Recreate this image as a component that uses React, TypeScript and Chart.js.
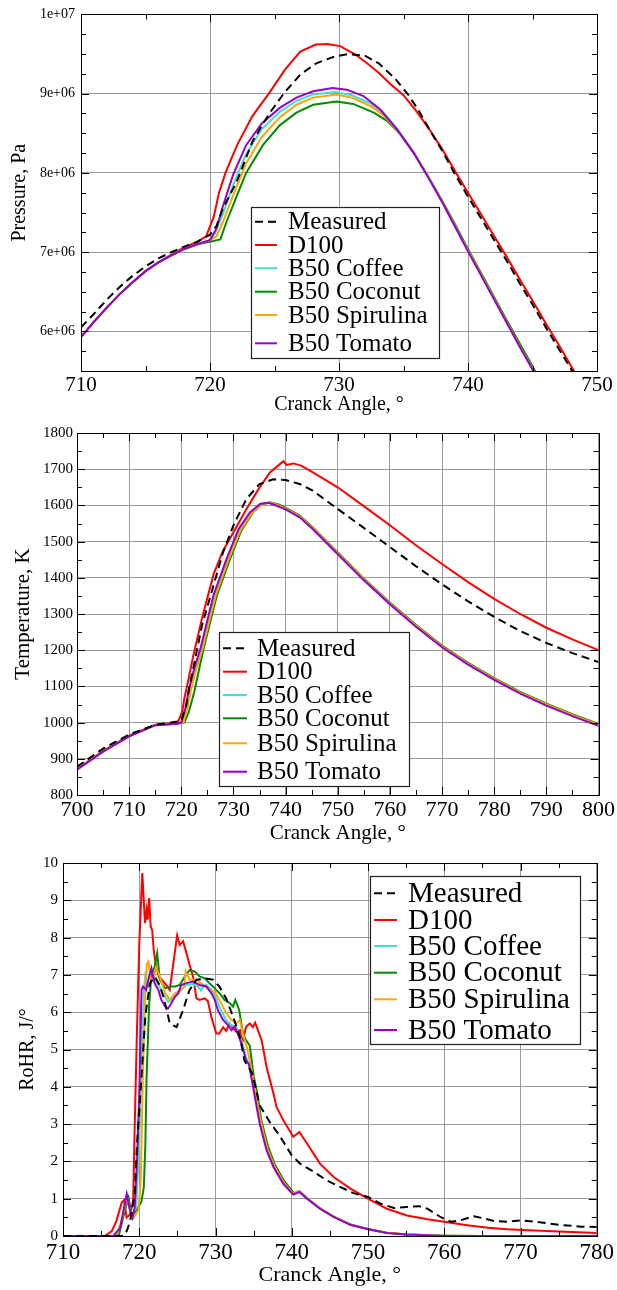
import { useEffect, useRef } from 'react';
import { Chart, registerables } from 'chart.js';

Chart.register(...registerables);

type Pt = [number, number];

const FONT = '"Liberation Serif", "Times New Roman", serif';

const SERIES_NAMES = ['Measured', 'D100', 'B50 Coffee', 'B50 Coconut', 'B50 Spirulina', 'B50 Tomato'];
const SERIES_COLORS = ['#000000', '#ff0000', '#40e0d0', '#008b00', '#ffa500', '#9400d3'];
const SERIES_ORDER = [0, 5, 4, 3, 2, 1];

// ---------- Pressure ----------
const pressureAngleTicks = [710, 720, 730, 740, 750];
const pressureTicks = [6e6, 7e6, 8e6, 9e6, 1e7];

const pressureMeasured: Pt[] = [
  [710, 6.05e6], [711, 6.22e6], [712, 6.4e6], [713, 6.56e6], [714, 6.7e6], [715, 6.82e6], [716, 6.92e6],
  [717, 7.0e6], [718, 7.07e6], [719, 7.13e6], [720, 7.22e6], [720.5, 7.33e6], [721, 7.55e6], [722.1, 7.9e6],
  [723.3, 8.4e6], [724.6, 8.75e6], [725.8, 9.02e6], [727, 9.24e6], [728.2, 9.38e6], [729.5, 9.46e6],
  [730.7, 9.5e6], [732, 9.48e6], [733.1, 9.38e6], [734.4, 9.18e6], [735.4, 8.98e6], [736.2, 8.78e6],
  [737, 8.55e6], [738, 8.28e6], [739, 7.98e6], [740, 7.7e6], [741, 7.43e6], [742, 7.16e6], [743, 6.89e6],
  [744, 6.61e6], [745, 6.34e6], [746, 6.06e6], [747, 5.79e6], [748, 5.52e6], [748.5, 5.39e6],
];
const pressureD100: Pt[] = [
  [710, 5.93e6], [711, 6.12e6], [712, 6.3e6], [713, 6.47e6], [714, 6.62e6], [715, 6.76e6], [716, 6.87e6],
  [717, 6.97e6], [718, 7.06e6], [719, 7.13e6], [719.7, 7.2e6], [720.3, 7.45e6], [720.7, 7.75e6],
  [721.2, 8.0e6], [722.1, 8.35e6], [723.3, 8.72e6], [724.6, 9.01e6], [725.8, 9.3e6], [727, 9.53e6],
  [728.2, 9.62e6], [729.1, 9.625e6], [730.1, 9.6e6], [731.3, 9.49e6], [732.2, 9.38e6], [733.1, 9.26e6],
  [734, 9.12e6], [735, 8.98e6], [736, 8.78e6], [737, 8.55e6], [738, 8.3e6], [739, 8.02e6], [740, 7.75e6],
  [741, 7.48e6], [742, 7.21e6], [743, 6.94e6], [744, 6.66e6], [745, 6.39e6], [746, 6.11e6], [747, 5.84e6],
  [748, 5.56e6], [748.6, 5.4e6],
];
const pressureCoffee: Pt[] = [
  [710, 5.93e6], [711, 6.12e6], [712, 6.3e6], [713, 6.47e6], [714, 6.62e6], [715, 6.76e6], [716, 6.87e6],
  [717, 6.96e6], [718, 7.04e6], [719, 7.1e6], [720, 7.15e6], [720.4, 7.24e6], [721, 7.48e6], [721.8, 7.85e6],
  [722.8, 8.24e6], [724, 8.55e6], [725.4, 8.77e6], [726.7, 8.91e6], [728, 8.99e6], [729.7, 9.02e6],
  [731, 8.98e6], [732.5, 8.87e6], [733.5, 8.75e6], [734.5, 8.56e6], [735.8, 8.26e6], [737, 7.93e6],
  [738, 7.64e6], [739, 7.33e6], [740, 7.02e6], [741, 6.72e6], [742, 6.42e6], [743, 6.12e6], [744, 5.82e6],
  [745, 5.53e6], [745.5, 5.38e6],
];
const pressureCoconut: Pt[] = [
  [710, 5.93e6], [711, 6.12e6], [712, 6.3e6], [713, 6.47e6], [714, 6.62e6], [715, 6.76e6], [716, 6.87e6],
  [717, 6.96e6], [718, 7.04e6], [719, 7.1e6], [720, 7.13e6], [720.8, 7.16e6], [721.3, 7.39e6],
  [722.1, 7.72e6], [722.8, 8.0e6], [724.1, 8.35e6], [725.4, 8.6e6], [726.7, 8.76e6], [728, 8.86e6],
  [729.8, 8.9e6], [731.1, 8.87e6], [732.7, 8.76e6], [733.7, 8.66e6], [734.7, 8.5e6], [735.8, 8.25e6],
  [737, 7.93e6], [738, 7.65e6], [739, 7.35e6], [740, 7.04e6], [741, 6.74e6], [742, 6.44e6], [743, 6.14e6],
  [744, 5.85e6], [745, 5.56e6], [745.6, 5.38e6],
];
const pressureSpirulina: Pt[] = [
  [710, 5.93e6], [711, 6.12e6], [712, 6.3e6], [713, 6.47e6], [714, 6.62e6], [715, 6.76e6], [716, 6.87e6],
  [717, 6.96e6], [718, 7.04e6], [719, 7.1e6], [720, 7.15e6], [720.5, 7.2e6], [721, 7.38e6], [721.8, 7.72e6],
  [722.8, 8.12e6], [724, 8.45e6], [725.4, 8.7e6], [726.7, 8.86e6], [728, 8.95e6], [729.8, 8.99e6],
  [731, 8.95e6], [732.5, 8.84e6], [733.5, 8.72e6], [734.5, 8.54e6], [735.8, 8.25e6], [737, 7.93e6],
  [738, 7.64e6], [739, 7.33e6], [740, 7.02e6], [741, 6.72e6], [742, 6.42e6], [743, 6.12e6], [744, 5.82e6],
  [745, 5.53e6], [745.5, 5.38e6],
];
const pressureTomato: Pt[] = [
  [710, 5.93e6], [711, 6.12e6], [712, 6.3e6], [713, 6.47e6], [714, 6.62e6], [715, 6.76e6], [716, 6.87e6],
  [717, 6.96e6], [718, 7.04e6], [719, 7.1e6], [720, 7.15e6], [720.5, 7.3e6], [721, 7.58e6], [721.8, 7.98e6],
  [722.8, 8.35e6], [724, 8.62e6], [725.4, 8.82e6], [726.7, 8.95e6], [728, 9.03e6], [729.5, 9.07e6],
  [730.6, 9.05e6], [731.9, 8.97e6], [733.2, 8.8e6], [734.5, 8.55e6], [735.8, 8.25e6], [737, 7.92e6],
  [738, 7.63e6], [739, 7.32e6], [740, 7.01e6], [741, 6.71e6], [742, 6.41e6], [743, 6.11e6], [744, 5.81e6],
  [745, 5.52e6], [745.5, 5.37e6],
];

// ---------- Temperature ----------
const tempAngleTicks = [700, 710, 720, 730, 740, 750, 760, 770, 780, 790, 800];
const tempTicks = [800, 900, 1000, 1100, 1200, 1300, 1400, 1500, 1600, 1700, 1800];

const tempMeasured: Pt[] = [
  [700, 878], [705, 928], [710, 967], [715, 994], [718, 1000], [720, 1005], [721, 1050], [721.5, 1096],
  [722, 1130], [724, 1270], [726, 1370], [728, 1470], [730, 1545], [732.5, 1618], [735, 1659],
  [737.6, 1672], [740, 1670], [742.7, 1659], [745.2, 1641], [750, 1590], [755, 1538], [760, 1485],
  [765, 1432], [770, 1382], [775, 1335], [780, 1292], [785, 1253], [790, 1220], [795, 1192], [800, 1167],
];
const tempD100: Pt[] = [
  [700, 872], [705, 922], [710, 964], [715, 994], [718, 998], [719.4, 1002], [720.2, 1032], [720.6, 1068],
  [721.3, 1114], [722.3, 1185], [724, 1290], [726.2, 1410], [728, 1475], [730, 1526], [732.5, 1590],
  [734.8, 1645], [737, 1691], [738.9, 1714], [739.6, 1722], [740.2, 1712], [741.5, 1716], [743, 1710],
  [745, 1693], [750, 1650], [755, 1598], [760, 1545], [765, 1490], [770, 1438], [775, 1388], [780, 1342],
  [785, 1300], [790, 1262], [795, 1230], [800, 1200],
];
const tempCoffee: Pt[] = [
  [700, 871], [705, 921], [710, 962], [715, 993], [719, 997], [720.2, 1000], [721, 1041], [721.7, 1095],
  [722.7, 1150], [723.9, 1206], [726.4, 1353], [728.9, 1453], [731.2, 1535], [733.4, 1581], [735.3, 1605],
  [736.9, 1608], [738.5, 1601], [740, 1591], [742.7, 1569], [745.2, 1537], [750, 1467], [755, 1395],
  [760, 1329], [765, 1267], [770, 1210], [775, 1162], [780, 1120], [785, 1082], [790, 1049], [795, 1020],
  [800, 993],
];
const tempCoconut: Pt[] = [
  [700, 871], [705, 921], [710, 963], [715, 993], [719, 997], [720.6, 1000], [721.5, 1032], [722.5, 1086],
  [724.3, 1206], [726.8, 1350], [729.3, 1450], [731.5, 1530], [733.7, 1580], [735.5, 1604], [737.2, 1608],
  [738.8, 1602], [740, 1594], [742.7, 1572], [745.2, 1540], [750, 1470], [755, 1398], [760, 1332],
  [765, 1270], [770, 1213], [775, 1165], [780, 1123], [785, 1085], [790, 1052], [795, 1023], [800, 996],
];
const tempSpirulina: Pt[] = [
  [700, 871], [705, 921], [710, 962], [715, 993], [719, 997], [720.4, 1000], [721.2, 1041], [721.9, 1093],
  [722.9, 1148], [724.1, 1206], [726.6, 1352], [729.1, 1452], [731.4, 1533], [733.6, 1580], [735.5, 1603],
  [737.1, 1607], [738.7, 1600], [740, 1592], [742.7, 1570], [745.2, 1538], [750, 1468], [755, 1396],
  [760, 1330], [765, 1268], [770, 1211], [775, 1163], [780, 1121], [785, 1083], [790, 1050], [795, 1021],
  [800, 994],
];
const tempTomato: Pt[] = [
  [700, 870], [705, 920], [710, 962], [715, 993], [719, 997], [720, 1000], [720.8, 1041], [721.5, 1095],
  [722.5, 1150], [723.7, 1206], [726.2, 1353], [728.7, 1453], [731, 1535], [733.2, 1581], [735.1, 1604],
  [736.7, 1607], [738.3, 1599], [740, 1589], [742.7, 1567], [745.2, 1535], [750, 1465], [755, 1393],
  [760, 1327], [765, 1265], [770, 1208], [775, 1160], [780, 1118], [785, 1080], [790, 1047], [795, 1018],
  [800, 991],
];

// ---------- RoHR ----------
const rohrAngleTicks = [710, 720, 730, 740, 750, 760, 770, 780];
const rohrTicks = [0, 1, 2, 3, 4, 5, 6, 7, 8, 9, 10];

const rohrMeasured: Pt[] = [
  [710, 0], [717.9, 0], [718.4, 0.15], [718.8, 0.4], [719.4, 1.12], [719.7, 2.46], [720, 3.35], [720.4, 4.6],
  [720.8, 5.9], [721.4, 6.78], [722.05, 6.95], [722.6, 6.75], [723.2, 6.4], [723.6, 6.06], [724, 5.7],
  [724.9, 5.6], [725.75, 6.06], [726.6, 6.6], [727.5, 6.87], [728.8, 6.9], [729.7, 6.87], [730.5, 6.69],
  [731.4, 6.37], [732.3, 5.88], [733.2, 5.35], [733.8, 4.7], [734.8, 4.37], [735.8, 3.5], [737.1, 3.06],
  [738.5, 2.66], [740, 2.16], [741.1, 1.94], [742.9, 1.72], [744.6, 1.49], [746.4, 1.31], [748.1, 1.15],
  [750, 1.05], [751.6, 0.87], [753.4, 0.75], [755.1, 0.78], [756.7, 0.8], [757.8, 0.73], [759.5, 0.51],
  [760.9, 0.38], [762.1, 0.42], [763.9, 0.53], [765.2, 0.47], [766.5, 0.4], [768.3, 0.38], [770, 0.42],
  [772, 0.38], [775, 0.3], [778, 0.25], [780, 0.24],
];
const rohrD100: Pt[] = [
  [710, 0], [715.5, 0], [716.4, 0.13], [717, 0.4], [717.7, 0.9], [718, 0.96], [718.35, 0.49], [718.8, 0.58],
  [719.2, 0.94], [719.4, 2.9], [719.7, 5.5], [720, 7.8], [720.4, 9.73], [720.75, 8.39], [720.96, 8.75],
  [721.1, 8.48], [721.3, 9.06], [721.5, 8.3], [721.7, 8.2], [721.9, 7.67], [722.2, 7.22], [722.6, 6.95],
  [723.35, 6.78], [724, 6.6], [724.65, 7.58], [724.97, 8.06], [725.3, 7.8], [725.75, 7.9], [726.2, 7.58],
  [726.6, 7.27], [727.06, 6.95], [727.5, 6.37], [727.9, 6.33], [728.6, 6.37], [729, 6.3], [729.45, 5.88],
  [730.1, 5.43], [730.5, 5.43], [731, 5.6], [731.4, 5.5], [731.85, 5.7], [732.3, 5.57], [732.7, 5.48],
  [733.2, 5.52], [733.5, 5.17], [734, 5.6], [734.5, 5.7], [734.9, 5.6], [735.2, 5.72], [735.6, 5.5],
  [736.05, 5.25], [736.7, 4.53], [737.6, 3.82], [738, 3.46], [738.9, 3.1], [740.2, 2.66], [741, 2.79],
  [742, 2.48], [743.7, 1.94], [745.5, 1.58], [747.7, 1.27], [750, 1.0], [752.5, 0.73], [755.1, 0.55],
  [757.8, 0.45], [760, 0.38], [763, 0.29], [765.7, 0.22], [768.3, 0.18], [770.4, 0.16], [775, 0.12],
  [780, 0.08],
];
const rohrCoffee: Pt[] = [
  [710, 0], [716.8, 0], [717.6, 0.3], [718.4, 1.1], [718.85, 0.65], [719.2, 0.5], [719.6, 0.8], [719.9, 2.0],
  [720.3, 4.5], [720.6, 6.6], [720.8, 7.0], [721.2, 6.7], [721.8, 6.96], [722.3, 6.8], [722.9, 6.6],
  [723.4, 6.4], [723.8, 6.28], [724.3, 6.35], [724.9, 6.46], [725.5, 6.6], [726.2, 6.73], [727, 6.75],
  [727.7, 6.69], [728.1, 6.58], [728.4, 6.7], [728.8, 6.73], [729.7, 6.55], [730.5, 6.15], [731.4, 5.79],
  [732, 5.66], [732.7, 5.61], [733.4, 5.25], [734, 4.8], [734.5, 4.5], [735.1, 3.95], [735.9, 3.02],
  [736.8, 2.32], [737.7, 1.86], [739, 1.41], [740.2, 1.12], [741, 1.19], [742, 1.0], [743.7, 0.73],
  [745.5, 0.51], [747.7, 0.3], [750, 0.18], [752.5, 0.08], [755.1, 0.04], [760, 0.01], [765, 0], [780, 0],
];
const rohrCoconut: Pt[] = [
  [710, 0], [717.3, 0], [718.1, 0.67], [718.6, 1.03], [719, 0.58], [719.65, 0.67], [720.3, 0.94], [720.6, 1.3],
  [720.8, 2.45], [720.96, 4.25], [721.3, 6.2], [721.6, 7.0], [722, 7.2], [722.35, 7.58], [722.7, 6.87],
  [723.4, 6.64], [724, 6.69], [724.7, 6.69], [725.3, 6.73], [726, 6.96], [726.6, 7.13], [727.3, 7.09],
  [727.9, 6.96], [728.6, 6.91], [729.2, 6.78], [729.9, 6.64], [730.5, 6.51], [731.2, 6.33], [731.9, 6.24],
  [732.3, 6.15], [732.6, 6.33], [733.1, 6.06], [733.6, 5.43], [734, 5.25], [734.5, 5.1], [735, 4.3],
  [735.5, 3.8], [736, 3.1], [736.9, 2.4], [737.8, 1.9], [739.1, 1.45], [740.3, 1.15], [741, 1.2],
  [742, 1.02], [743.7, 0.75], [745.5, 0.52], [747.7, 0.31], [750, 0.19], [752.5, 0.09], [755.1, 0.04],
  [760, 0.01], [765, 0], [780, 0],
];
const rohrSpirulina: Pt[] = [
  [710, 0], [717, 0], [717.8, 0.5], [718.4, 1.05], [718.9, 0.6], [719.3, 0.5], [719.9, 0.7], [720.2, 1.5],
  [720.5, 4.5], [720.8, 6.5], [721, 7.3], [721.2, 7.36], [721.5, 6.9], [721.8, 6.87], [722.2, 7.2],
  [722.7, 6.96], [723.4, 6.51], [724, 6.33], [724.7, 6.51], [725.5, 6.6], [725.9, 6.7], [726.1, 7.09],
  [726.6, 6.87], [727.5, 6.87], [728.4, 6.73], [729.2, 6.6], [729.9, 6.55], [730.5, 6.33], [731.4, 5.97],
  [732.1, 5.79], [732.7, 5.7], [733.2, 5.79], [733.6, 5.43], [734.2, 4.99], [734.7, 4.5], [735.2, 3.9],
  [736, 3.0], [736.8, 2.35], [737.7, 1.88], [739, 1.42], [740.2, 1.13], [741, 1.2], [742, 1.01],
  [743.7, 0.74], [745.5, 0.52], [747.7, 0.31], [750, 0.19], [752.5, 0.09], [755.1, 0.04], [760, 0.01],
  [765, 0], [780, 0],
];
const rohrTomato: Pt[] = [
  [710, 0], [716.6, 0], [717.5, 0.22], [718.35, 1.12], [718.8, 0.67], [719.1, 0.49], [719.4, 0.76],
  [719.7, 2.0], [720, 3.8], [720.3, 6.6], [720.5, 6.69], [720.9, 6.6], [721.2, 6.87], [721.6, 7.18],
  [722, 6.78], [722.5, 6.6], [722.9, 6.33], [723.4, 6.15], [723.8, 6.1], [724.2, 6.24], [724.7, 6.42],
  [725.1, 6.5], [725.5, 6.73], [726.2, 6.78], [727.06, 6.82], [727.9, 6.73], [728.8, 6.69], [729.5, 6.5],
  [729.9, 6.33], [730.3, 6.06], [731, 5.79], [731.6, 5.66], [732.1, 5.52], [732.5, 5.61], [732.9, 5.43],
  [733.4, 5.16], [734, 4.72], [734.4, 4.6], [735, 3.91], [735.8, 3.01], [736.7, 2.3], [737.6, 1.85],
  [738.9, 1.4], [740.2, 1.11], [741, 1.18], [742, 1.0], [743.7, 0.73], [745.5, 0.51], [747.7, 0.3],
  [750, 0.18], [752.5, 0.08], [755.1, 0.04], [759.5, 0.01], [765, 0], [780, 0],
];

// ---------- helpers ----------
const sciLabel = (v: number) => {
  const e = Math.floor(Math.log10(Math.abs(v)) + 1e-9);
  const m = Math.round(v / Math.pow(10, e));
  return `${m}e+${String(e).padStart(2, '0')}`;
};

interface LegendCfg {
  box: [number, number, number, number];
  rows: number[];
  sample: [number, number];
  textX: number;
  fontSize: number;
}

const makeLegendPlugin = (cfg: LegendCfg) => ({
  id: 'boxLegend',
  afterDraw(chart: any) {
    const ctx: CanvasRenderingContext2D = chart.ctx;
    const [l, t, r, b] = cfg.box;
    ctx.save();
    ctx.fillStyle = '#ffffff';
    ctx.fillRect(l, t, r - l, b - t);
    ctx.strokeStyle = '#222';
    ctx.lineWidth = 1.2;
    ctx.strokeRect(l + 0.5, t + 0.5, r - l, b - t);
    ctx.font = `${cfg.fontSize}px ${FONT}`;
    ctx.textBaseline = 'middle';
    ctx.textAlign = 'left';
    chart.data.datasets.forEach((ds: any, i: number) => {
      const y = cfg.rows[i];
      ctx.strokeStyle = ds.borderColor;
      ctx.lineWidth = 2;
      ctx.setLineDash(ds.borderDash || []);
      ctx.beginPath();
      ctx.moveTo(cfg.sample[0], y);
      ctx.lineTo(cfg.sample[1], y);
      ctx.stroke();
      ctx.setLineDash([]);
      ctx.fillStyle = '#000';
      ctx.fillText(ds.label, cfg.textX, y + 1);
    });
    ctx.restore();
  },
});

const makeFramePlugin = (xStep: number, yStep: number, xMajor: number[], yMajor: number[]) => ({
  id: 'frameTicks',
  afterDatasetsDraw(chart: any) {
    const ctx: CanvasRenderingContext2D = chart.ctx;
    const { left, right, top, bottom } = chart.chartArea;
    const xs = chart.scales.x;
    const ys = chart.scales.y;
    ctx.save();
    ctx.strokeStyle = '#000';
    ctx.lineWidth = 1;
    ctx.beginPath();
    const nx = Math.round((xs.max - xs.min) / xStep);
    for (let i = 0; i <= nx; i++) {
      const v = xs.min + i * xStep;
      const major = xMajor.some((m) => Math.abs(m - v) < 1e-6);
      const len = major ? 8 : 5;
      const px = Math.round(xs.getPixelForValue(v)) + 0.5;
      ctx.moveTo(px, bottom);
      ctx.lineTo(px, bottom - len);
      ctx.moveTo(px, top);
      ctx.lineTo(px, top + len);
    }
    const ny = Math.round((ys.max - ys.min) / yStep);
    for (let i = 0; i <= ny; i++) {
      const v = ys.min + i * yStep;
      const major = yMajor.some((m) => Math.abs(m - v) < yStep * 1e-3);
      const len = major ? 8 : 5;
      const py = Math.round(ys.getPixelForValue(v)) + 0.5;
      ctx.moveTo(left, py);
      ctx.lineTo(left + len, py);
      ctx.moveTo(right, py);
      ctx.lineTo(right - len, py);
    }
    ctx.stroke();
    ctx.strokeRect(Math.round(left) + 0.5, Math.round(top) + 0.5, Math.round(right - left), Math.round(bottom - top));
    ctx.restore();
  },
});

interface ChartSpec {
  height: number;
  series: Pt[][];
  xMin: number; xMax: number; xTicks: number[]; xMinorStep: number;
  yMin: number; yMax: number; yTicks: number[]; yMinorStep: number;
  yLabel: (v: number) => string;
  yTitle: string;
  padTop: number; padRight: number;
  yAxisWidth: number; xAxisHeight: number;
  xTickSize: number; xTickPad: number;
  yTickSize: number; yTickPad: number;
  xTitleSize: number; xTitlePad: number;
  yTitleSize: number; yTitlePad: number;
  legend: LegendCfg;
}

const buildConfig = (s: ChartSpec): any => ({
  type: 'line',
  data: {
    datasets: s.series.map((pts, i) => ({
      label: SERIES_NAMES[i],
      data: pts.map(([x, y]) => ({ x, y })),
      borderColor: SERIES_COLORS[i],
      backgroundColor: SERIES_COLORS[i],
      borderWidth: 2,
      borderDash: i === 0 ? [8, 5] : [],
      pointRadius: 0,
      tension: 0,
      fill: false,
      order: SERIES_ORDER[i],
    })),
  },
  options: {
    responsive: false,
    animation: false,
    devicePixelRatio: 1,
    layout: { padding: { top: s.padTop, right: s.padRight, left: 0, bottom: 0 } },
    plugins: { legend: { display: false }, tooltip: { enabled: false } },
    scales: {
      x: {
        type: 'linear',
        min: s.xMin,
        max: s.xMax,
        afterBuildTicks: (sc: any) => { sc.ticks = s.xTicks.map((v) => ({ value: v })); },
        afterFit: (sc: any) => { sc.height = s.xAxisHeight; },
        grid: { color: '#9a9a9a', lineWidth: 1, drawTicks: false },
        border: { display: false },
        ticks: {
          font: { family: FONT, size: s.xTickSize },
          color: '#000',
          padding: s.xTickPad,
          maxRotation: 0,
          autoSkip: false,
          callback: (v: number) => String(v),
        },
        title: {
          display: true,
          text: 'Cranck Angle, °',
          color: '#000',
          font: { family: FONT, size: s.xTitleSize },
          padding: { top: 0, bottom: s.xTitlePad },
        },
      },
      y: {
        type: 'linear',
        min: s.yMin,
        max: s.yMax,
        afterBuildTicks: (sc: any) => { sc.ticks = s.yTicks.map((v) => ({ value: v })); },
        afterFit: (sc: any) => { sc.width = s.yAxisWidth; },
        grid: { color: '#9a9a9a', lineWidth: 1, drawTicks: false },
        border: { display: false },
        ticks: {
          font: { family: FONT, size: s.yTickSize },
          color: '#000',
          padding: s.yTickPad,
          autoSkip: false,
          callback: (v: number) => s.yLabel(v),
        },
        title: {
          display: true,
          text: s.yTitle,
          color: '#000',
          font: { family: FONT, size: s.yTitleSize },
          padding: { top: s.yTitlePad, bottom: 0 },
        },
      },
    },
  },
  plugins: [
    makeFramePlugin(s.xMinorStep, s.yMinorStep, s.xTicks, s.yTicks),
    makeLegendPlugin(s.legend),
  ],
});

const pressureSpec: ChartSpec = {
  height: 420,
  series: [pressureMeasured, pressureD100, pressureCoffee, pressureCoconut, pressureSpirulina, pressureTomato],
  xMin: 710, xMax: 750, xTicks: pressureAngleTicks, xMinorStep: 5,
  yMin: 5.5e6, yMax: 1e7, yTicks: pressureTicks, yMinorStep: 2.5e5,
  yLabel: sciLabel,
  yTitle: 'Pressure, Pa',
  padTop: 11, padRight: 20,
  yAxisWidth: 81, xAxisHeight: 49,
  xTickSize: 21, xTickPad: 2,
  yTickSize: 14, yTickPad: 6,
  xTitleSize: 20, xTitlePad: 3,
  yTitleSize: 20, yTitlePad: 8,
  legend: {
    box: [251, 207, 439, 358],
    rows: [221.7, 245, 268.3, 291.7, 315, 343.3],
    sample: [255, 277],
    textX: 288,
    fontSize: 25,
  },
};

const tempSpec: ChartSpec = {
  height: 430,
  series: [tempMeasured, tempD100, tempCoffee, tempCoconut, tempSpirulina, tempTomato],
  xMin: 700, xMax: 800, xTicks: tempAngleTicks, xMinorStep: 5,
  yMin: 800, yMax: 1800, yTicks: tempTicks, yMinorStep: 50,
  yLabel: (v) => String(v),
  yTitle: 'Temperature, K',
  padTop: 9, padRight: 15,
  yAxisWidth: 77, xAxisHeight: 55,
  xTickSize: 22, xTickPad: 2,
  yTickSize: 15, yTickPad: 4,
  xTitleSize: 21, xTitlePad: 4,
  yTitleSize: 21, yTitlePad: 11,
  legend: {
    box: [219, 212, 409, 366],
    rows: [228.3, 251.7, 275, 298.3, 323.3, 351.7],
    sample: [223, 247],
    textX: 257,
    fontSize: 25,
  },
};

const rohrSpec: ChartSpec = {
  height: 450,
  series: [rohrMeasured, rohrD100, rohrCoffee, rohrCoconut, rohrSpirulina, rohrTomato],
  xMin: 710, xMax: 780, xTicks: rohrAngleTicks, xMinorStep: 5,
  yMin: 0, yMax: 10, yTicks: rohrTicks, yMinorStep: 0.5,
  yLabel: (v) => String(v),
  yTitle: 'RoHR, J/°',
  padTop: 23, padRight: 18,
  yAxisWidth: 63, xAxisHeight: 54,
  xTickSize: 23, xTickPad: 3,
  yTickSize: 15, yTickPad: 5,
  xTitleSize: 22, xTitlePad: 2,
  yTitleSize: 20, yTitlePad: 16,
  legend: {
    box: [370, 36, 580, 204],
    rows: [53.3, 80, 106, 132.7, 159.3, 190],
    sample: [374, 397],
    textX: 408,
    fontSize: 29,
  },
};

function LineCanvas({ spec, top }: { spec: ChartSpec; top: number }) {
  const ref = useRef<HTMLCanvasElement>(null);
  useEffect(() => {
    if (!ref.current) return;
    const chart = new Chart(ref.current, buildConfig(spec));
    return () => chart.destroy();
  }, [spec]);
  return (
    <canvas
      ref={ref}
      width={617}
      height={spec.height}
      style={{ position: 'absolute', left: 0, top, width: 617, height: spec.height }}
    />
  );
}

export default function App() {
  return (
    <div style={{ position: 'absolute', left: 0, top: 0, width: 617, height: 1290, background: '#ffffff' }}>
      <LineCanvas spec={rohrSpec} top={840} />
      <LineCanvas spec={tempSpec} top={420} />
      <LineCanvas spec={pressureSpec} top={0} />
    </div>
  );
}
